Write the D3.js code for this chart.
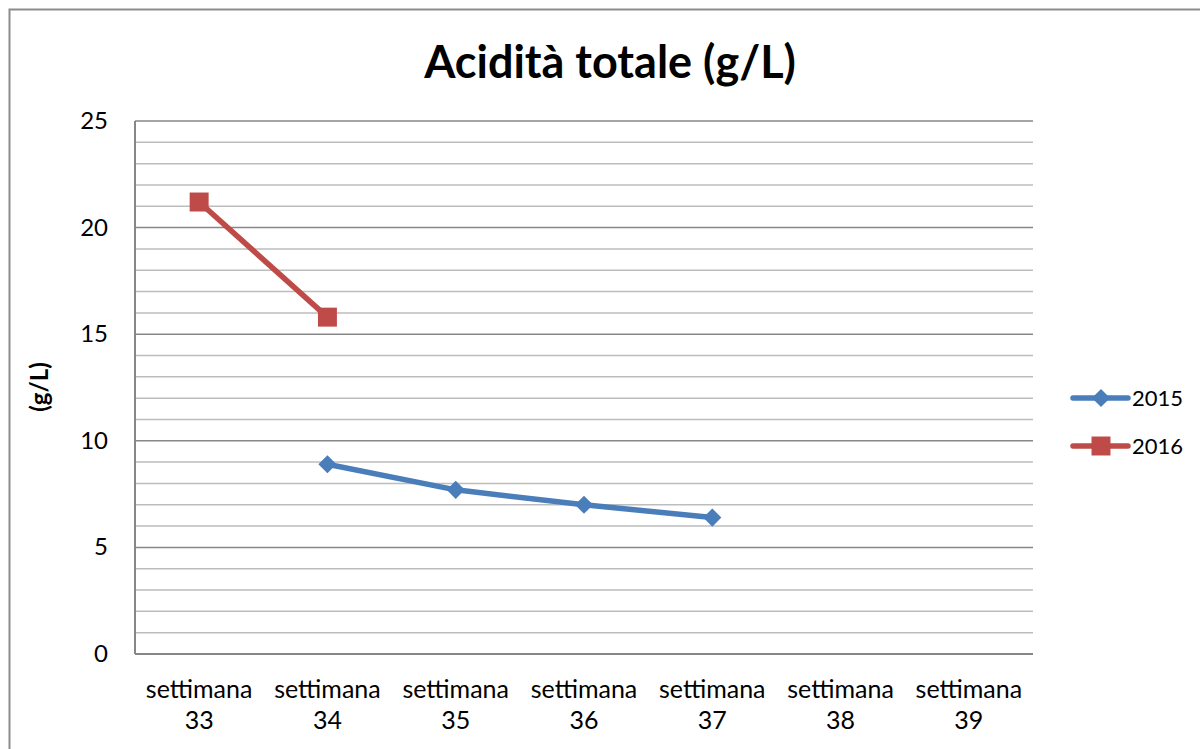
<!DOCTYPE html>
<html>
<head>
<meta charset="utf-8">
<script src="https://cdn.jsdelivr.net/npm/d3@7"></script>
<style>
  body { margin: 0; background: #fff; }
  text { font-family: Lato, "Open Sans", sans-serif; fill: #000; }
</style>
</head>
<body>
<script>
const categories = ["settimana 33", "settimana 34", "settimana 35", "settimana 36", "settimana 37", "settimana 38", "settimana 39"];
const values2015 = [null, 8.9, 7.7, 7.0, 6.4, null, null];
const values2016 = [21.2, 15.8, null, null, null, null, null];
const seriesNames = ["2015", "2016"];
const yTicks = [0, 5, 10, 15, 20, 25];

const width = 1200, height = 749;
const plot = { left: 135, right: 1033, top: 121, bottom: 654 };

const svg = d3.select("body").append("svg")
  .attr("width", width)
  .attr("height", height);

svg.append("rect")
  .attr("x", 9.5).attr("y", 9.5)
  .attr("width", width + 20).attr("height", height + 20)
  .attr("fill", "#fff")
  .attr("stroke", "#8c8c8c")
  .attr("stroke-width", 2);

const x = d3.scaleBand()
  .domain(categories)
  .range([plot.left, plot.right]);

const y = d3.scaleLinear()
  .domain([0, 25])
  .range([plot.bottom, plot.top]);

// minor gridlines
svg.append("g")
  .selectAll("line")
  .data(d3.range(0, 26).filter(v => v % 5 !== 0))
  .join("line")
  .attr("x1", plot.left).attr("x2", plot.right)
  .attr("y1", d => y(d)).attr("y2", d => y(d))
  .attr("stroke", "#bdbdbd")
  .attr("stroke-width", 1.5);

// major gridlines
svg.append("g")
  .selectAll("line")
  .data(yTicks.filter(v => v > 0))
  .join("line")
  .attr("x1", plot.left).attr("x2", plot.right)
  .attr("y1", d => y(d)).attr("y2", d => y(d))
  .attr("stroke", "#878787")
  .attr("stroke-width", 1.5);

// axes
svg.append("line")
  .attr("x1", plot.left).attr("x2", plot.left)
  .attr("y1", plot.top).attr("y2", plot.bottom)
  .attr("stroke", "#878787").attr("stroke-width", 2);
svg.append("line")
  .attr("x1", plot.left).attr("x2", plot.right)
  .attr("y1", plot.bottom).attr("y2", plot.bottom)
  .attr("stroke", "#878787").attr("stroke-width", 2);

// y tick labels
svg.append("g")
  .selectAll("text")
  .data(yTicks)
  .join("text")
  .attr("x", 108)
  .attr("y", d => y(d) + 8)
  .attr("text-anchor", "end")
  .attr("font-size", 24)
  .text(d => d);

// x tick labels
const xl = svg.append("g")
  .selectAll("text")
  .data(categories)
  .join("text")
  .attr("text-anchor", "middle")
  .attr("font-size", 25);
xl.append("tspan")
  .attr("x", d => x(d) + x.bandwidth() / 2)
  .attr("y", 698)
  .text(d => d.split(" ")[0]);
xl.append("tspan")
  .attr("x", d => x(d) + x.bandwidth() / 2)
  .attr("y", 729)
  .text(d => d.split(" ")[1]);

// title
svg.append("text")
  .attr("x", 610).attr("y", 78)
  .attr("text-anchor", "middle")
  .attr("font-size", 45)
  .attr("font-weight", "bold")
  .text("Acidità totale (g/L)");

// y axis title
svg.append("text")
  .attr("transform", "translate(48,387) rotate(-90)")
  .attr("text-anchor", "middle")
  .attr("font-size", 24)
  .attr("font-weight", "bold")
  .text("(g/L)");

const cx = d => x(d) + x.bandwidth() / 2;
const line = d3.line()
  .defined(d => d.v != null)
  .x(d => cx(d.c))
  .y(d => y(d.v));

const colors = ["#4a7ebb", "#be4b48"];
const allSeries = [values2015, values2016].map((vals, i) => ({
  name: seriesNames[i],
  color: colors[i],
  pts: vals.map((v, j) => ({ c: categories[j], v }))
}));

const diamond = d3.symbol().type(d3.symbolDiamond2).size(210);
const square = d3.symbol().type(d3.symbolSquare).size(360);

allSeries.forEach((s, i) => {
  svg.append("path")
    .attr("d", line(s.pts))
    .attr("fill", "none")
    .attr("stroke", s.color)
    .attr("stroke-width", 5.5)
    .attr("stroke-linejoin", "round");
  svg.append("g")
    .selectAll("path")
    .data(s.pts.filter(d => d.v != null))
    .join("path")
    .attr("transform", d => `translate(${cx(d.c)},${y(d.v)})`)
    .attr("d", i === 0 ? diamond() : square())
    .attr("fill", s.color);
});

// legend
const legend = svg.append("g")
  .selectAll("g")
  .data(allSeries)
  .join("g")
  .attr("transform", (d, i) => `translate(1073,${398 + i * 48})`);
legend.append("line")
  .attr("x1", 0).attr("x2", 55)
  .attr("stroke", d => d.color)
  .attr("stroke-width", 5.5)
  .attr("stroke-linecap", "round");
legend.append("path")
  .attr("transform", "translate(28,0)")
  .attr("d", (d, i) => i === 0 ? diamond() : square())
  .attr("fill", d => d.color);
legend.append("text")
  .attr("x", 59).attr("y", 8)
  .attr("font-size", 22)
  .text(d => d.name);
</script>
</body>
</html>
